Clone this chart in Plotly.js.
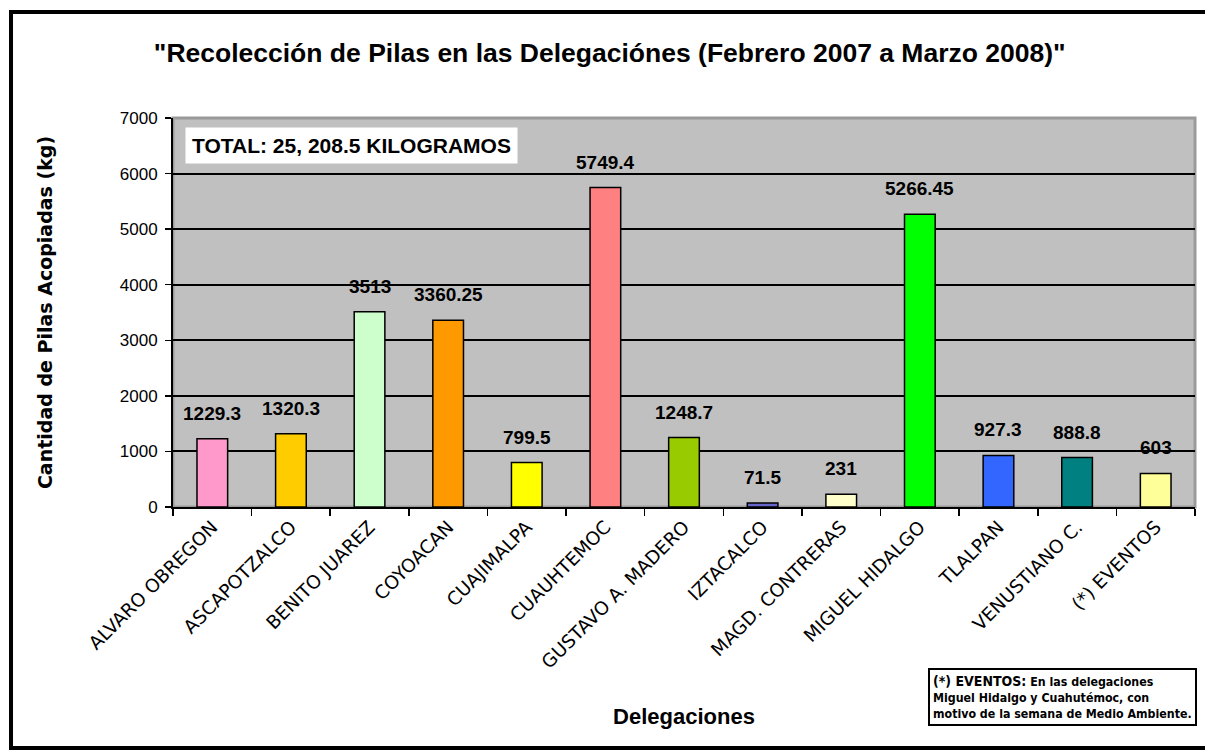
<!DOCTYPE html>
<html>
<head>
<meta charset="utf-8">
<script src="https://cdn.plot.ly/plotly-3.0.1.min.js"></script>
<style>
html,body{margin:0;padding:0;background:#fff;}
#chart{width:1205px;height:750px;}
</style>
</head>
<body>
<div id="chart"></div>
<script>
const categories = ["ALVARO OBREGON","ASCAPOTZALCO","BENITO JUAREZ","COYOACAN","CUAJIMALPA","CUAUHTEMOC","GUSTAVO A. MADERO","IZTACALCO","MAGD. CONTRERAS","MIGUEL HIDALGO","TLALPAN","VENUSTIANO C.","(*) EVENTOS"];
const values = [1229.3, 1320.3, 3513, 3360.25, 799.5, 5749.4, 1248.7, 71.5, 231, 5266.45, 927.3, 888.8, 603];
const labels = ["1229.3","1320.3","3513","3360.25","799.5","5749.4","1248.7","71.5","231","5266.45","927.3","888.8","603"];
const colors = ["#FF99CC","#FFCC00","#CCFFCC","#FF9900","#FFFF00","#FF8080","#99CC00","#6666CC","#FFFFCC","#00FF00","#3366FF","#008080","#FFFF99"];
const yTicks = [0,1000,2000,3000,4000,5000,6000,7000];

const trace = {
  type: "bar",
  x: categories,
  y: values,
  marker: {color: colors, line: {color: "#000", width: 1.5}},
  hoverinfo: "x+y"
};

const annotations = categories.map((c, i) => ({
  x: c, y: values[i], xref: "x", yref: "y",
  text: labels[i], showarrow: false, yanchor: "bottom", yshift: 13,
  font: {family: "Liberation Sans, Arial, sans-serif", size: 19, color: "#000", weight: "bold"}
}));

annotations.push({
  xref: "paper", yref: "paper", x: 0.0117, y: 0.977, xanchor: "left", yanchor: "top",
  text: "<b>TOTAL: 25, 208.5 KILOGRAMOS</b>", showarrow: false,
  bgcolor: "#FFFFFF", borderpad: 6,
  font: {family: "Liberation Sans, Arial, sans-serif", size: 21, color: "#000"}
});

annotations.push({
  xref: "paper", yref: "paper", x: 0.739, y: -0.414, xanchor: "left", yanchor: "top",
  align: "left",
  text: "<b><span style='font-size:14px'>(*) EVENTOS:</span> En las delegaciones<br>Miguel Hidalgo y Cuahutémoc, con<br>motivo de la semana de Medio Ambiente.</b>",
  showarrow: false, bgcolor: "#FFFFFF", bordercolor: "#000", borderwidth: 2, borderpad: 3,
  font: {family: "DejaVu Sans Condensed, DejaVu Sans, sans-serif", size: 12.3, color: "#000"}
});

const layout = {
  width: 1205, height: 750,
  margin: {l: 173, r: 10, t: 118, b: 243},
  paper_bgcolor: "#FFFFFF",
  plot_bgcolor: "#C0C0C0",
  bargap: 0.61,
  showlegend: false,
  title: {
    text: "\"Recolección de Pilas en las Delegaciónes (Febrero 2007 a Marzo 2008)\"",
    x: 0.506, xanchor: "center", y: 0.93, yanchor: "middle",
    font: {family: "Liberation Sans, Arial, sans-serif", size: 26.5, color: "#000", weight: "bold"}
  },
  xaxis: {
    type: "category",
    tickangle: -45,
    tickson: "boundaries",
    ticks: "outside", ticklen: 7, tickwidth: 1.5, tickcolor: "#000",
    showline: true, linecolor: "#000", linewidth: 2,
    showgrid: false,
    tickfont: {family: "DejaVu Sans, sans-serif", size: 18.5, color: "#000"},
    title: {text: "Delegaciones", standoff: 37,
      font: {family: "Liberation Sans, Arial, sans-serif", size: 22, color: "#000", weight: "bold"}}
  },
  yaxis: {
    range: [0, 7000],
    tickvals: yTicks,
    ticktext: yTicks.map(String),
    ticks: "outside", ticklen: 6, tickwidth: 1.5, tickcolor: "#000",
    ticklabelstandoff: 4,
    showline: true, linecolor: "#000", linewidth: 2,
    showgrid: true, gridcolor: "#000", gridwidth: 2,
    zeroline: false,
    tickfont: {family: "Liberation Sans, Arial, sans-serif", size: 17, color: "#000"},
    title: {text: "Cantidad de Pilas Acopiadas (kg)", standoff: 62,
      font: {family: "DejaVu Sans, sans-serif", size: 19, color: "#000", weight: "bold"}}
  },
  annotations: annotations,
  shapes: [
    {type: "rect", xref: "paper", yref: "paper", x0: 0, x1: 1, y0: 0, y1: 1,
     line: {color: "#9a9a9a", width: 3}, layer: "below"},
    {type: "rect", xref: "paper", yref: "paper", x0: -0.1585, x1: 1.03, y0: -0.6195, y1: 1.2725,
     line: {color: "#000", width: 4}}
  ]
};

Plotly.newPlot("chart", [trace], layout, {displayModeBar: false, staticPlot: true});
</script>
</body>
</html>
